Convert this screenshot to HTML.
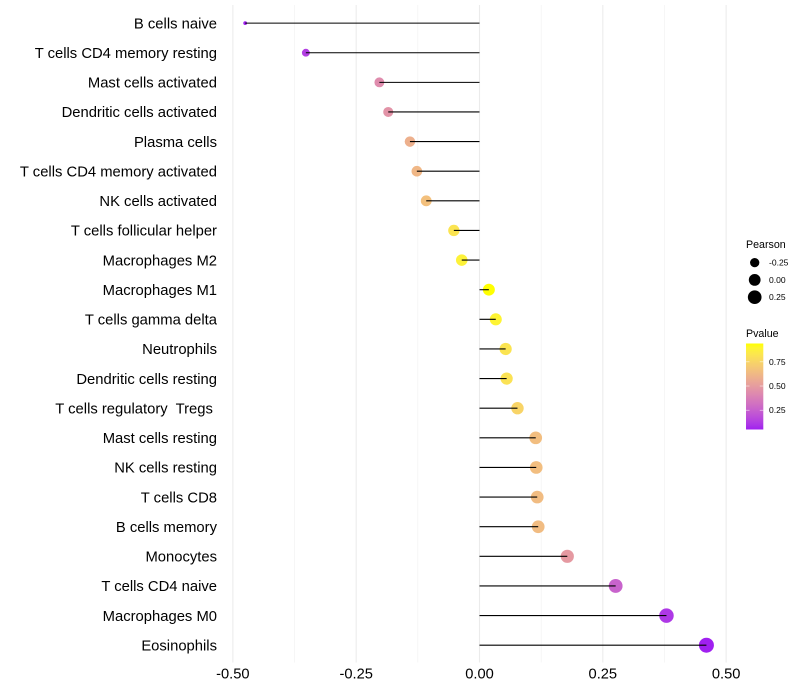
<!DOCTYPE html>
<html>
<head>
<meta charset="utf-8">
<style>
html,body{margin:0;padding:0;background:#fff;}
svg{display:block;font-family:"Liberation Sans",sans-serif;}
</style>
</head>
<body>
<svg id="chart" width="800" height="700" viewBox="0 0 800 700" xmlns="http://www.w3.org/2000/svg"></svg>
<script>
const categories = ["B cells naive","T cells CD4 memory resting","Mast cells activated","Dendritic cells activated","Plasma cells","T cells CD4 memory activated","NK cells activated","T cells follicular helper","Macrophages M2","Macrophages M1","T cells gamma delta","Neutrophils","Dendritic cells resting","T cells regulatory  Tregs ","Mast cells resting","NK cells resting","T cells CD8","B cells memory","Monocytes","T cells CD4 naive","Macrophages M0","Eosinophils"];
const pearson = [-0.475,-0.352,-0.203,-0.185,-0.141,-0.127,-0.108,-0.052,-0.036,0.019,0.033,0.053,0.055,0.077,0.114,0.115,0.117,0.119,0.178,0.276,0.379,0.460];
const pvalue = [0.05,0.13,0.43,0.46,0.59,0.62,0.66,0.82,0.88,0.94,0.89,0.82,0.81,0.75,0.65,0.65,0.64,0.64,0.49,0.26,0.11,0.05];
const xTicks = [-0.5,-0.25,0,0.25,0.5];
const xTickLabels = ["-0.50","-0.25","0.00","0.25","0.50"];
const xMinorTicks = [-0.375,-0.125,0.125,0.375];
const pearsonLegendValues = [-0.25,0,0.25];
const pearsonLegendLabels = ["-0.25","0.00","0.25"];
const pvalueLegendValues = [0.75,0.5,0.25];
const pvalueLegendLabels = ["0.75","0.50","0.25"];

const svg = document.getElementById('chart');
const NS = 'http://www.w3.org/2000/svg';
function make(tag, attrs, parent){
  const el = document.createElementNS(NS, tag);
  for (const k in attrs) el.setAttribute(k, attrs[k]);
  (parent || svg).appendChild(el);
  return el;
}

/* axis functions */
function xScale(v){ return 479.5 + v * 493.3; }
function yScale(i){ return 23.1 + i * (622.1 / (categories.length - 1)); }
const pMin = Math.min(...pvalue), pMax = Math.max(...pvalue);
const rMin = Math.min(...pearson), rMax = Math.max(...pearson);
function radius(v){
  const t = Math.max(0, (v - rMin) / (rMax - rMin));
  return (3.8 + 11.2 * Math.sqrt(t)) / 2;
}

/* purple to yellow, interpolated in Lab like ggplot's gradient */
function toLab(rgb){
  const l = rgb.map(c => { c /= 255; return c <= 0.04045 ? c / 12.92 : Math.pow((c + 0.055) / 1.055, 2.4); });
  const X = (0.4124564*l[0] + 0.3575761*l[1] + 0.1804375*l[2]) / 0.95047;
  const Y = (0.2126729*l[0] + 0.7151522*l[1] + 0.0721750*l[2]);
  const Z = (0.0193339*l[0] + 0.1191920*l[1] + 0.9503041*l[2]) / 1.08883;
  const f = t => t > 0.008856 ? Math.cbrt(t) : 7.787 * t + 16 / 116;
  return [116*f(Y) - 16, 500*(f(X) - f(Y)), 200*(f(Y) - f(Z))];
}
function fromLab(lab){
  const fy = (lab[0] + 16) / 116, fx = fy + lab[1] / 500, fz = fy - lab[2] / 200;
  const g = t => t*t*t > 0.008856 ? t*t*t : (t - 16/116) / 7.787;
  const X = g(fx) * 0.95047, Y = g(fy), Z = g(fz) * 1.08883;
  const r = [
    3.2404542*X - 1.5371385*Y - 0.4985314*Z,
    -0.9692660*X + 1.8760108*Y + 0.0415560*Z,
    0.0556434*X - 0.2040259*Y + 1.0572252*Z
  ];
  return 'rgb(' + r.map(c => {
    c = c <= 0.0031308 ? 12.92 * c : 1.055 * Math.pow(Math.max(c, 0), 1 / 2.4) - 0.055;
    return Math.round(Math.min(1, Math.max(0, c)) * 255);
  }).join(',') + ')';
}
const labLow = toLab([160,32,240]);
const labHigh = toLab([255,255,0]);
function colorAt(t){
  return fromLab(labLow.map((c, i) => c + (labHigh[i] - c) * t));
}
function colorScale(p){ return colorAt((p - pMin) / (pMax - pMin)); }

const plotTop = 5, plotBottom = 662.5;

/* grid */
xMinorTicks.forEach(v => {
  const line = make('line', {x1:xScale(v), x2:xScale(v), y1:plotTop, y2:plotBottom, stroke:'#f0f0f0', 'stroke-width':0.6});
  
  
});
xTicks.forEach(v => {
  const line = make('line', {x1:xScale(v), x2:xScale(v), y1:plotTop, y2:plotBottom, stroke:'#ebebeb', 'stroke-width':1.07});
  
  
});

/* points */
categories.forEach((c, i) => {
  const dot = make('circle', {cx:xScale(pearson[i]), cy:yScale(i), r:radius(pearson[i]), fill:colorScale(pvalue[i])});
  
  
});
/* stems drawn over the points */
categories.forEach((c, i) => {
  const stem = make('line', {x1:xScale(0), x2:xScale(pearson[i]), y1:yScale(i), y2:yScale(i), stroke:'#000', 'stroke-width':1.07});
  
  
});

/* category labels */
categories.forEach((c, i) => {
  const label = make('text', {x:217, y:yScale(i) + 5.2, 'text-anchor':'end', 'font-size':14.8, fill:'#000', 'xml:space':'preserve'});
  label.style.whiteSpace = 'pre';
  label.textContent = c;
  
  
});

/* x tick labels */
xTicks.forEach((v, i) => {
  const label = make('text', {x:xScale(v), y:678.6, 'text-anchor':'middle', 'font-size':14.67, fill:'#000'});
  label.textContent = xTickLabels[i];
  
  
});

/* Pearson legend */
const pearsonTitle = make('text', {x:746, y:248, 'font-size':10.67, fill:'#000'});
pearsonTitle.textContent = 'Pearson';


const legendKeyY = [262.6, 279.9, 297.2];
pearsonLegendValues.forEach((v, i) => {
  const key = make('circle', {cx:754.7, cy:legendKeyY[i], r:radius(v), fill:'#000'});
  
  
  const label = make('text', {x:769, y:legendKeyY[i] + 3, 'font-size':8.53, fill:'#000'});
  label.textContent = pearsonLegendLabels[i];
  
  
});

/* Pvalue legend */
const pvalueTitle = make('text', {x:746, y:337, 'font-size':10.67, fill:'#000'});
pvalueTitle.textContent = 'Pvalue';


const barX = 746, barW = 17.3, barTop = 343.5, barBottom = 429.5;
const defs = make('defs', {});
const grad = make('linearGradient', {id:'pvalue-gradient', x1:0, y1:1, x2:0, y2:0}, defs);
for (let s = 0; s <= 20; s++) {
  make('stop', {offset:s / 20, 'stop-color':colorAt(s / 20)}, grad);
}
const bar = make('rect', {x:barX, y:barTop, width:barW, height:barBottom - barTop, fill:'url(#pvalue-gradient)'});


function barY(p){ return barBottom - (p - pMin) / (pMax - pMin) * (barBottom - barTop); }
pvalueLegendValues.forEach((v, i) => {
  const y = barY(v);
  const tl = make('line', {x1:barX, x2:barX + 3.5, y1:y, y2:y, stroke:'#fff', 'stroke-width':0.5});
  
  
  const tr = make('line', {x1:barX + barW - 3.5, x2:barX + barW, y1:y, y2:y, stroke:'#fff', 'stroke-width':0.5});
  
  
  const label = make('text', {x:769, y:y + 3, 'font-size':8.53, fill:'#000'});
  label.textContent = pvalueLegendLabels[i];
  
  
});
</script>
</body>
</html>
